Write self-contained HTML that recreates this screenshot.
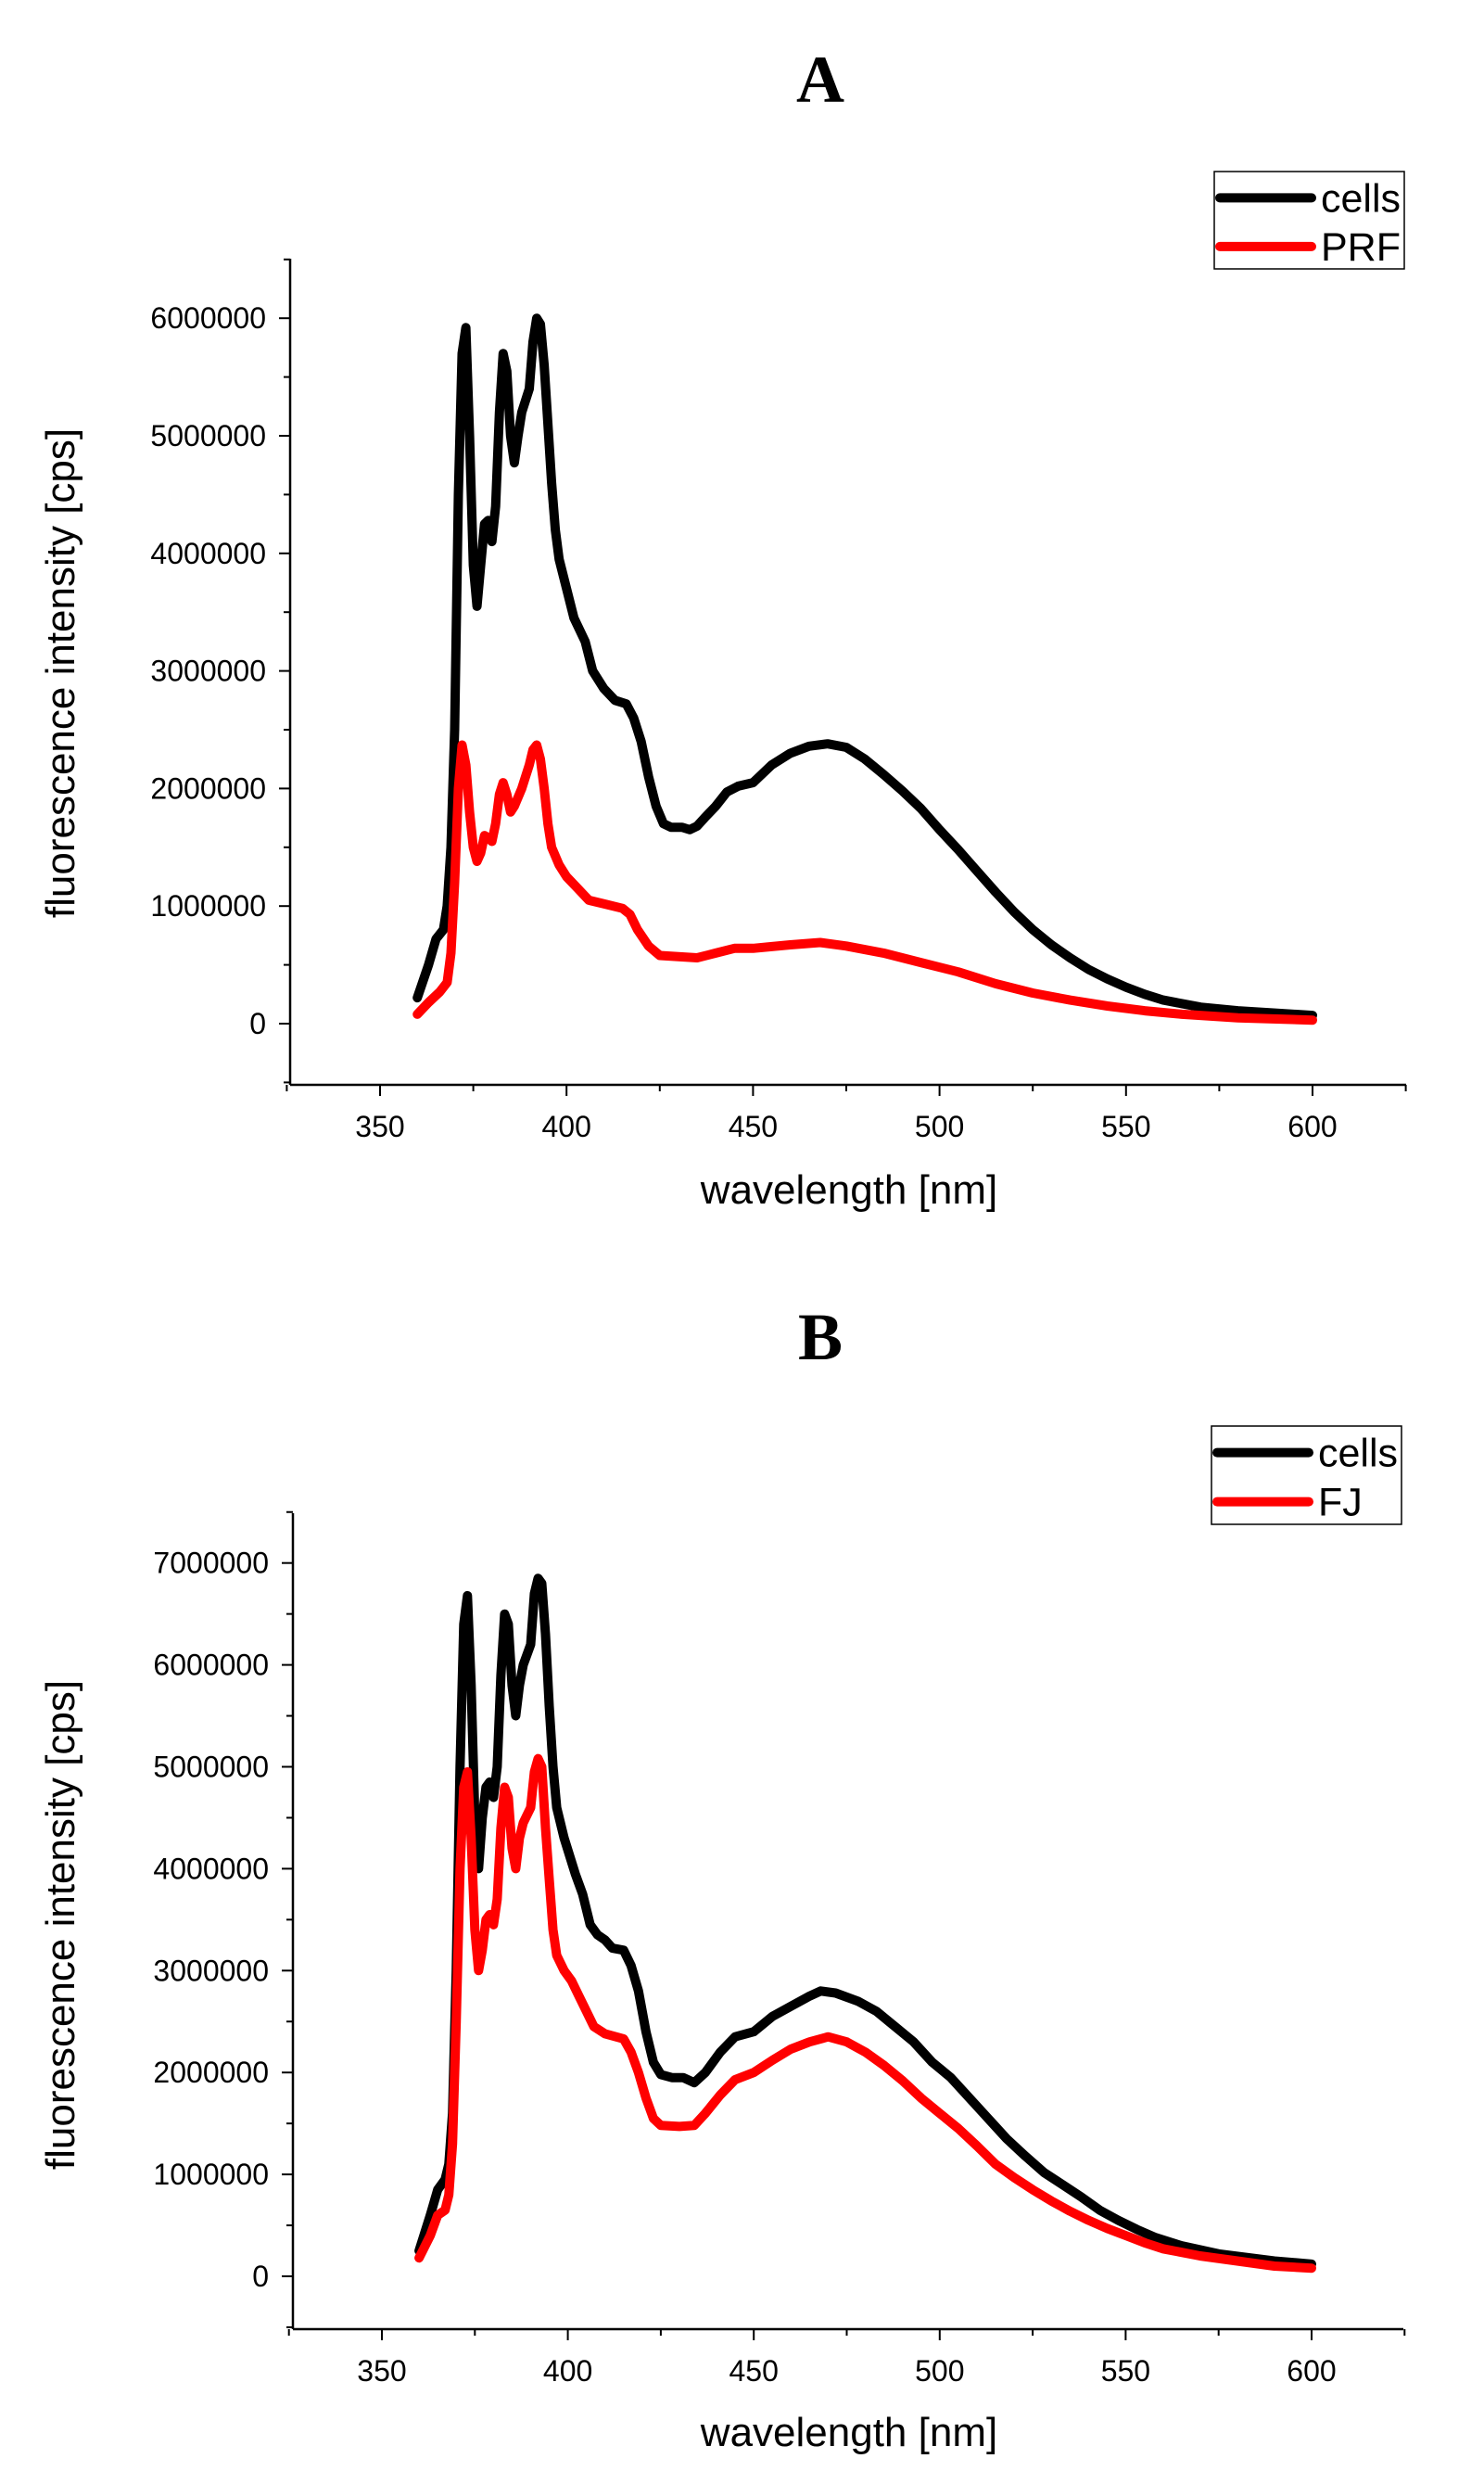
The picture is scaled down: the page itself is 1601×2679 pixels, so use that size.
<!DOCTYPE html>
<html><head><meta charset="utf-8"><style>
html,body{margin:0;padding:0;background:#fff;}
svg{display:block;}
text{font-family:"Liberation Sans",sans-serif;fill:#000;}
</style></head><body>
<svg id="s" width="1601" height="2679" viewBox="0 0 1601 2679" xmlns="http://www.w3.org/2000/svg">
<rect width="1601" height="2679" fill="#fff"/>
<text x="885" y="110" font-weight="bold" font-size="72" text-anchor="middle" style="font-family:'Liberation Serif',serif">A</text>
<text x="885" y="1466" font-weight="bold" font-size="72" text-anchor="middle" style="font-family:'Liberation Serif',serif">B</text>
</svg>
<script>
var S=document.getElementById('s'),NS='http://www.w3.org/2000/svg';
function el(n,a,t){var e=document.createElementNS(NS,n);for(var k in a)e.setAttribute(k,a[k]);if(t!=null)e.textContent=t;S.appendChild(e);return e;}
function plot(P){
 var X=function(v){return P.x350+(v-350)*P.kx;},Y=function(v){return P.y0-v*P.ky;};
 el('line',{x1:P.ax,y1:P.top,x2:P.ax,y2:P.bot,stroke:'#000','stroke-width':2.5});
 el('line',{x1:P.ax,y1:P.bot,x2:P.right,y2:P.bot,stroke:'#000','stroke-width':2.5});
 for(var v=-0.5;v<=P.ymax+0.001;v+=0.5){var y=Y(v),maj=Math.abs(v-Math.round(v))<0.01&&v>=0;
  el('line',{x1:P.ax-(maj?12:7),y1:y,x2:P.ax,y2:y,stroke:'#000','stroke-width':2});
  if(maj)el('text',{x:P.ax-26,y:y+11,'font-size':32,'text-anchor':'end'},v==0?'0':String(Math.round(v*1e6)));}
 for(var w=325;w<=625;w+=25){var x=X(w),maj=w%50==0;
  el('line',{x1:x,y1:P.bot,x2:x,y2:P.bot+(maj?12:7),stroke:'#000','stroke-width':2});
  if(maj&&w>=350&&w<=600)el('text',{x:x,y:P.bot+56,'font-size':32,'text-anchor':'middle'},String(w));}
 P.series.forEach(function(s){var d=s.d,pts=[];for(var i=0;i<d.length;i+=2)pts.push(X(d[i]).toFixed(1)+','+Y(d[i+1]).toFixed(1));
  el('polyline',{points:pts.join(' '),fill:'none',stroke:s.c,'stroke-width':10,'stroke-linejoin':'round','stroke-linecap':'round'});});
 el('text',{x:916,y:P.xl,'font-size':44,'text-anchor':'middle'},'wavelength [nm]');
 el('text',{x:0,y:0,'font-size':44,'text-anchor':'middle',transform:'translate(80,'+P.yl+') rotate(-90)'},'fluorescence intensity [cps]');
 var L=P.leg;el('rect',{x:L[0],y:L[1],width:L[2]-L[0],height:L[3]-L[1],fill:'#fff',stroke:'#000','stroke-width':1.5});
 var h=(L[3]-L[1]);
 P.series.forEach(function(s,i){var y=L[1]+h*(0.27+0.5*i);
  el('line',{x1:L[0]+6,y1:y,x2:L[0]+105,y2:y,stroke:s.c,'stroke-width':10,'stroke-linecap':'round'});
  el('text',{x:L[0]+115,y:y+15,'font-size':43},s.n);});
}
plot({ax:313,top:279,bot:1170,right:1517,x350:410,kx:4.024,y0:1104,ky:126.8,ymax:6.5,xl:1298,yl:726,leg:[1310,185,1515,290],
series:[{c:'#000',n:'cells',d:[360,0.22,363,0.5,365,0.72,367,0.8,368,1.0,369,1.5,370,2.5,371,4.5,372,5.7,373,5.92,374,5.0,375,3.9,376,3.55,377,3.9,378,4.25,379,4.28,380,4.1,381,4.4,382,5.2,383,5.7,384,5.55,385,5.0,386,4.77,387,5.0,388,5.2,390,5.4,391,5.8,392,6.0,393,5.95,394,5.6,395,5.1,396,4.6,397,4.2,398,3.95,400,3.7,402,3.45,405,3.25,407,3.0,410,2.85,413,2.75,416,2.72,418,2.6,420,2.4,422,2.1,424,1.85,426,1.7,428,1.67,431,1.67,433,1.65,435,1.68,437,1.75,440,1.85,443,1.97,446,2.02,450,2.05,455,2.2,460,2.3,465,2.36,470,2.38,475,2.35,480,2.25,485,2.12,490,1.98,495,1.83,500,1.65,505,1.48,510,1.3,515,1.12,520,0.95,525,0.8,530,0.67,535,0.56,540,0.46,545,0.38,550,0.31,555,0.25,560,0.2,565,0.17,570,0.14,580,0.11,590,0.09,600,0.07]},
{c:'#ff0000',n:'PRF',d:[360,0.08,363,0.18,366,0.27,368,0.35,369,0.6,370,1.2,371,2.0,372,2.37,373,2.2,374,1.8,375,1.5,376,1.38,377,1.45,378,1.6,379,1.58,380,1.55,381,1.7,382,1.95,383,2.05,384,1.95,385,1.8,386,1.85,388,2.0,390,2.2,391,2.33,392,2.37,393,2.25,394,2.0,395,1.7,396,1.5,398,1.35,400,1.25,403,1.15,406,1.05,410,1.02,415,0.98,417,0.93,419,0.8,422,0.66,425,0.58,430,0.57,435,0.56,440,0.6,445,0.64,450,0.64,460,0.67,468,0.69,475,0.66,485,0.6,495,0.52,505,0.44,515,0.34,525,0.26,535,0.2,545,0.15,555,0.11,565,0.08,580,0.05,600,0.03]}]});
plot({ax:316,top:1632,bot:2512,right:1514,x350:412,kx:4.012,y0:2455,ky:109.9,ymax:7.5,xl:2638,yl:2076,leg:[1307,1538,1512,1644],
series:[{c:'#000',n:'cells',d:[360,0.25,363,0.6,365,0.85,367,0.95,368,1.1,369,1.6,370,3.0,371,5.0,372,6.4,373,6.68,374,5.8,375,4.5,376,4.0,377,4.5,378,4.8,379,4.85,380,4.7,381,5.0,382,5.9,383,6.5,384,6.4,385,5.8,386,5.5,387,5.8,388,6.0,390,6.2,391,6.7,392,6.85,393,6.8,394,6.3,395,5.6,396,5.0,397,4.6,399,4.3,402,3.95,404,3.75,406,3.45,408,3.35,410,3.3,412,3.22,415,3.2,417,3.05,419,2.8,421,2.4,423,2.1,425,1.98,428,1.95,431,1.95,434,1.9,437,2.0,441,2.2,445,2.35,450,2.4,455,2.55,460,2.65,465,2.75,468,2.8,472,2.78,478,2.7,483,2.6,488,2.45,493,2.3,498,2.1,503,1.95,508,1.75,513,1.55,518,1.35,523,1.18,528,1.02,533,0.9,538,0.78,543,0.65,548,0.55,553,0.46,558,0.38,565,0.3,575,0.22,590,0.15,600,0.12]},
{c:'#ff0000',n:'FJ',d:[360,0.18,363,0.4,365,0.6,367,0.65,368,0.8,369,1.3,370,2.5,371,4.0,372,4.8,373,4.95,374,4.3,375,3.4,376,3.0,377,3.2,378,3.5,379,3.55,380,3.45,381,3.7,382,4.4,383,4.8,384,4.7,385,4.2,386,4.0,387,4.3,388,4.45,390,4.6,391,4.95,392,5.08,393,5.0,394,4.4,395,3.9,396,3.4,397,3.15,399,3.0,401,2.9,403,2.75,405,2.6,407,2.45,410,2.38,415,2.33,417,2.2,419,2.0,421,1.75,423,1.55,425,1.48,430,1.47,434,1.48,437,1.6,441,1.78,445,1.93,450,2.0,455,2.12,460,2.23,465,2.3,470,2.35,475,2.3,480,2.2,485,2.07,490,1.92,495,1.75,500,1.6,505,1.45,510,1.28,515,1.1,520,0.97,525,0.85,530,0.74,535,0.64,540,0.55,545,0.47,550,0.4,555,0.33,560,0.27,570,0.2,580,0.15,590,0.1,600,0.08]}]});
</script>
</body></html>
